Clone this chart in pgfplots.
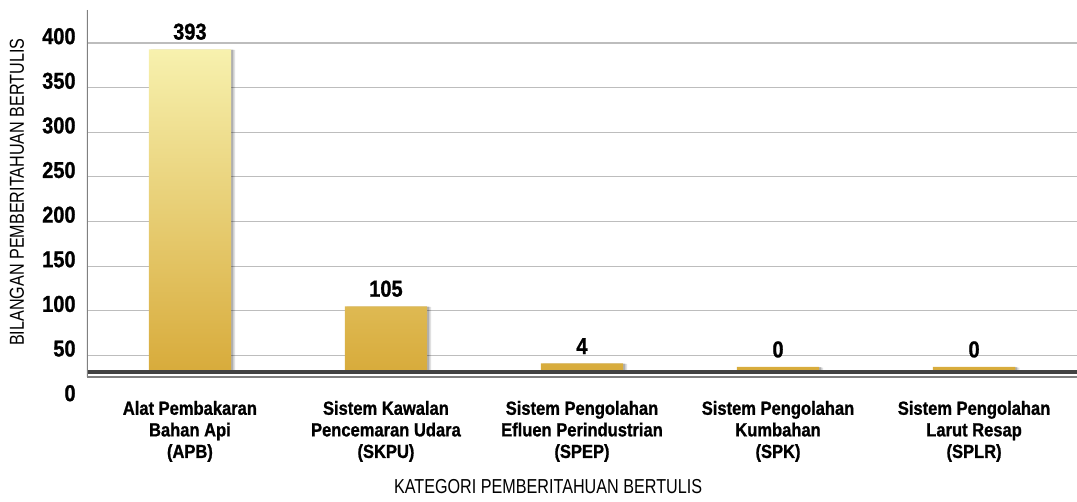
\documentclass[border=0pt]{standalone}
\usepackage{pgfplots}
\pgfplotsset{compat=1.18}
\usepackage{pgfplotstable}
\usepackage{fontspec}
\setmainfont{Liberation Sans}
\newfontfamily\condfont{Liberation Sans}[FakeStretch=0.87, BoldFeatures={FakeBold=1.0}]
\newfontfamily\lightcond{Liberation Sans}[FakeStretch=0.8]
\definecolor{bartop}{HTML}{F7F1AE}
\definecolor{barbot}{HTML}{D5A531}
\definecolor{baseln}{HTML}{424242}
\definecolor{gridc}{HTML}{BDBDBD}

\pgfplotstableread{
x v
0 393
1 105
2 4
3 0
4 0
}\datatab

\begin{document}
\begin{tikzpicture}
\begin{axis}[
  at={(43.5pt,51pt)}, anchor=south west,
  scale only axis, width=495pt, height=195pt,
  xmin=-0.525, xmax=4.525, ymin=0, ymax=437,
  axis line style={draw=none},
  major tick length=0pt,
  ytick={50,100,...,400},
  extra y ticks={0},
  extra y tick style={grid=none},
  ymajorgrids, grid style={gridc, line width=0.6pt},
  /pgf/number format/assume math mode=true,
  yticklabel style={font=\condfont\bfseries\fontsize{11.5}{13}\selectfont, anchor=east, inner sep=0pt, xshift=-5.5pt, yshift=3.4pt},
  xtick=data,
  xticklabels={{Alat Pembakaran\\Bahan Api\\(APB)},
               {Sistem Kawalan\\Pencemaran Udara\\(SKPU)},
               {Sistem Pengolahan\\Efluen Perindustrian\\(SPEP)},
               {Sistem Pengolahan\\Kumbahan\\(SPK)},
               {Sistem Pengolahan\\Larut Resap\\(SPLR)}},
  xticklabel style={font=\condfont\bfseries\fontsize{9.5}{10.8}\selectfont, align=center, anchor=north, inner sep=0pt, yshift=-0.3pt},
  ylabel={BILANGAN PEMBERITAHUAN BERTULIS},
  ylabel style={font=\lightcond\fontsize{10.1}{12}\selectfont, at={(rel axis cs:-0.0707,0.533)}, anchor=center},
  xlabel={KATEGORI PEMBERITAHUAN BERTULIS},
  xlabel style={font=\lightcond\fontsize{10.1}{12}\selectfont, at={(rel axis cs:0.4657,-0.223)}, anchor=center},
  ybar, bar width=0.42,
]
% soft shadow layers
\addplot[draw=none, fill=black, fill opacity=0.12, bar shift=2.0pt, bar width=0.42]
  table[x=x, y expr={ifthenelse(\thisrow{v}<30, 37+\thisrow{v}, \thisrow{v})-0.6}] {\datatab};
\addplot[draw=none, fill=black, fill opacity=0.22, bar shift=1.1pt, bar width=0.42]
  table[x=x, y expr={ifthenelse(\thisrow{v}<30, 37+\thisrow{v}, \thisrow{v})-0.3}] {\datatab};
\addplot[draw=none, top color=bartop, bottom color=barbot, bar shift=0pt,
  nodes near coords, point meta=explicit,
  every node near coord/.append style={font=\condfont\bfseries\fontsize{11.5}{13}\selectfont, anchor=south, inner sep=0pt, yshift=4.5pt, text=black}]
  table[x=x, y expr={ifthenelse(\thisrow{v}<30, 37+\thisrow{v}, \thisrow{v})}, meta=v] {\datatab};
\fill[white] (axis cs:-0.525,-5) rectangle (axis cs:4.525,30);
\draw[baseln, line width=2pt] (axis cs:-0.525,31.4) -- (axis cs:4.525,31.4);
\draw[gray, line width=0.6pt] (axis cs:-0.525,25.8) -- (axis cs:4.525,25.8);
\draw[gray, line width=0.6pt] (axis cs:-0.525,437) -- (axis cs:-0.525,25.8);
\end{axis}
\pgfresetboundingbox
\useasboundingbox (0,0) rectangle (538.5pt,251pt);
\end{tikzpicture}
\end{document}
